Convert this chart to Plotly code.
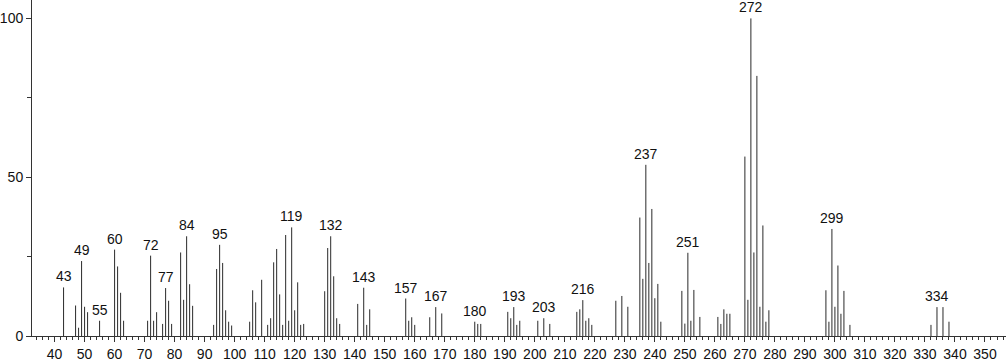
import plotly.graph_objects as go

mz = [43, 47, 48, 49, 50, 51, 55, 60, 61, 62, 63, 71, 72, 73, 74, 76, 77, 78, 79,
      82, 83, 84, 85, 86, 93, 94, 95, 96, 97, 98, 99, 105, 106, 107, 109, 111, 112,
      113, 114, 115, 116, 117, 118, 119, 120, 121, 122, 123, 130, 131, 132, 133, 134,
      135, 141, 143, 144, 145, 157, 158, 159, 160, 165, 167, 169, 180, 181, 182, 191,
      192, 193, 194, 195, 201, 203, 205, 214, 215, 216, 217, 218, 219, 227, 229, 231,
      235, 236, 237, 238, 239, 240, 241, 242, 249, 250, 251, 252, 253, 255, 261, 262,
      263, 264, 265, 270, 271, 272, 273, 274, 275, 276, 277, 278, 297, 298, 299, 300,
      301, 302, 303, 305, 332, 334, 336, 338]
intensity = [15.3, 9.6, 2.6, 23.6, 9.2, 7.5, 4.8, 27.2, 21.9, 13.6, 4.8, 4.8, 25.3, 4.8,
             7.5, 3.8, 15.1, 11.1, 3.8, 26.3, 11.4, 31.4, 16.3, 9.5, 3.5, 21.1, 28.7,
             23.0, 8.1, 4.5, 3.3, 4.5, 14.4, 10.6, 17.7, 3.5, 5.6, 23.2, 27.4, 13.1, 3.5,
             31.8, 4.8, 34.2, 8.1, 16.9, 3.5, 3.8, 14.1, 27.7, 31.4, 18.8, 5.6, 3.8, 10.1,
             15.2, 3.5, 8.4, 11.8, 4.8, 5.9, 3.5, 5.9, 9.1, 7.1, 4.5, 3.8, 3.8, 7.6, 5.6,
             9.1, 3.5, 4.8, 4.8, 5.6, 3.8, 7.6, 8.4, 11.3, 4.8, 5.6, 3.5, 11.1, 12.6, 9.2,
             37.3, 18.0, 53.9, 23.0, 40.0, 11.9, 16.4, 4.5, 14.2, 3.9, 26.2, 4.8, 14.5,
             6.0, 6.0, 3.8, 8.4, 7.0, 7.0, 56.5, 11.4, 100.0, 26.3, 81.9, 9.2, 34.8, 4.5,
             8.1, 14.4, 4.5, 33.7, 9.2, 22.2, 7.0, 14.2, 3.5, 3.5, 9.1, 9.1, 4.5]
labeled_mz = [43, 49, 55, 60, 72, 77, 84, 95, 119, 132, 143, 157, 167, 180, 193, 203,
              216, 237, 251, 272, 299, 334]

xs, ys = [], []
for m, v in zip(mz, intensity):
    xs += [m, m, None]
    ys += [0, v, None]

fig = go.Figure()
fig.add_trace(go.Scatter(x=xs, y=ys, mode="lines",
                         line=dict(color="#2a2a2a", width=1),
                         hoverinfo="skip", showlegend=False))

lookup = dict(zip(mz, intensity))
for m in labeled_mz:
    fig.add_annotation(x=m, y=lookup[m], text=str(m), showarrow=False,
                       xanchor="center", yanchor="bottom", yshift=1,
                       font=dict(family="Liberation Sans, Arial", size=14, color="#111"))

fig.update_layout(
    width=1007, height=362,
    margin=dict(l=31, r=1, t=0, b=24),
    paper_bgcolor="white", plot_bgcolor="white",
    font=dict(family="Liberation Sans, Arial", size=14, color="#111"),
    xaxis=dict(range=[32.48, 357], tickmode="linear", tick0=40, dtick=10,
               ticks="outside", ticklen=5, tickcolor="#333", showline=True,
               linecolor="#333", linewidth=1, showgrid=False, zeroline=False,
               minor=dict(dtick=2, tick0=40, ticks="outside", ticklen=3, tickcolor="#333", showgrid=False)),
    yaxis=dict(range=[0, 105.8], tickmode="linear", tick0=0, dtick=50,
               ticks="outside", ticklen=5, tickcolor="#333", showline=True,
               linecolor="#333", linewidth=1, showgrid=False, zeroline=False,
               minor=dict(dtick=25, ticks="outside", ticklen=4, tickcolor="#333", showgrid=False)),
)

fig.write_html("out.html", config={"displayModeBar": False},
               post_script="document.body.style.margin='0';")
